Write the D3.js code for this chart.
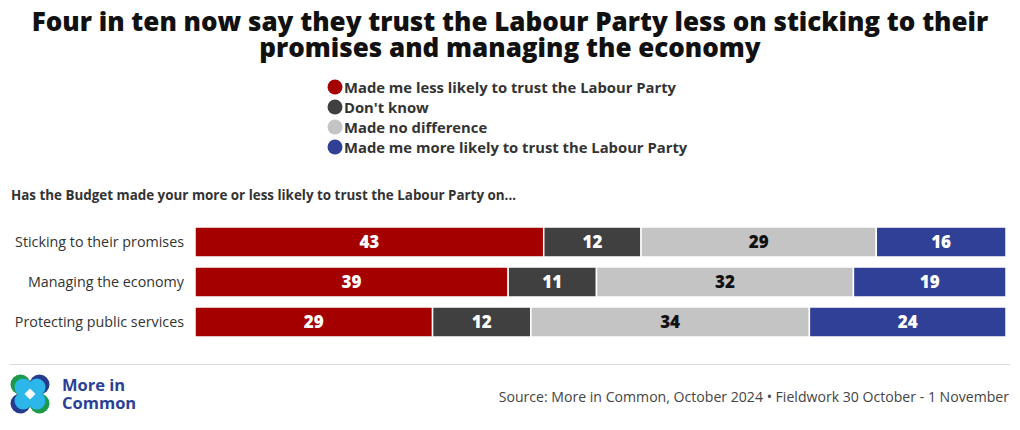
<!DOCTYPE html>
<html><head><meta charset="utf-8">
<script src="https://cdn.jsdelivr.net/npm/d3@7"></script>
<style>
html,body{margin:0;padding:0;background:#fff;}
svg{display:block;font-family:"Open Sans", sans-serif;}
</style></head>
<body><svg id="c" width="1020" height="430"></svg>
<script>
const titleLines = ["Four in ten now say they trust the Labour Party less on sticking to their", "promises and managing the economy"];
const subtitle = "Has the Budget made your more or less likely to trust the Labour Party on...";
const categories = ["Sticking to their promises", "Managing the economy", "Protecting public services"];
const seriesNames = ["Made me less likely to trust the Labour Party", "Don't know", "Made no difference", "Made me more likely to trust the Labour Party"];
const seriesColors = ["#a50000", "#404040", "#c4c4c4", "#2f4096"];
const labelColors = ["#fff", "#fff", "#111", "#fff"];
const lessLikely = [43, 39, 29];
const dontKnow = [12, 11, 12];
const noDifference = [29, 32, 34];
const moreLikely = [16, 19, 24];
const source = "Source: More in Common, October 2024 • Fieldwork 30 October - 1 November";

const series = [lessLikely, dontKnow, noDifference, moreLikely];
const svg = d3.select("#c");

// Title (single text element, two lines)
const t = svg.append("text").attr("text-anchor","middle")
  .attr("font-size", 26).attr("font-weight", 800).attr("fill","#111");
t.selectAll("tspan").data(titleLines).join("tspan")
  .attr("x", 510).attr("y", (d,i)=>31 + i*26).text(d=>d);

// Legend
const lg = svg.append("g");
const li = lg.selectAll("g").data(seriesNames).join("g")
  .attr("transform",(d,i)=>`translate(335,${87 + i*20})`);
li.append("circle").attr("r",7.5).attr("cx",0).attr("cy",0).attr("fill",(d,i)=>seriesColors[i]);
li.append("text").attr("x",9).attr("y",5.5).attr("font-size",14.8).attr("font-weight",700)
  .attr("fill","#333").text(d=>d);

// Subtitle
svg.append("text").attr("x",11).attr("y",200).attr("font-size",13.4).attr("font-weight",700)
  .attr("fill","#333").text(subtitle);

// Bars
const x = d3.scaleLinear().domain([0,1]).range([195,1006]);
const y = d3.scaleBand().domain(categories).range([222,342]).paddingInner(0.25).paddingOuter(0.125);

const rows = categories.map((c,ci)=>{
  const total = d3.sum(series, s=>s[ci]);
  let acc = 0;
  return series.map((s,si)=>{
    const seg = {cat:c, si, v:s[ci], x0:acc/total, x1:(acc+s[ci])/total};
    acc += s[ci];
    return seg;
  });
}).flat();

const bars = svg.append("g");
bars.selectAll("rect").data(rows).join("rect")
  .attr("x",d=>x(d.x0)).attr("width",d=>x(d.x1)-x(d.x0))
  .attr("y",d=>y(d.cat)).attr("height",y.bandwidth())
  .attr("fill",d=>seriesColors[d.si]).attr("stroke","#fff").attr("stroke-width",1.5);
bars.selectAll("text").data(rows).join("text")
  .attr("x",d=>(x(d.x0)+x(d.x1))/2).attr("y",d=>y(d.cat)+y.bandwidth()/2+6)
  .attr("text-anchor","middle").attr("font-size",17).attr("font-weight",800)
  .attr("fill",d=>labelColors[d.si]).text(d=>d.v);

// Category axis
const yAxis = svg.append("g").attr("transform","translate(187,0)")
  .call(d3.axisLeft(y).tickSize(0).tickPadding(3));
yAxis.select(".domain").remove();
yAxis.selectAll("text").attr("font-size",14.3).attr("fill","#333").attr("font-family","'Open Sans', sans-serif");

// Divider
svg.append("line").attr("x1",10).attr("x2",1010).attr("y1",364.5).attr("y2",364.5)
  .attr("stroke","#d9d9d9").attr("stroke-width",1);

// Logo
const logo = svg.append("g").attr("transform","translate(30,394)");
const cs = [[-9.5,-9.5,"#1c9a4b"],[9.5,-9.5,"#253b90"],[-9.5,9.5,"#253b90"],[9.5,9.5,"#1c9a4b"]];
logo.selectAll("circle.o").data(cs).join("circle").attr("class","o")
  .attr("cx",d=>d[0]).attr("cy",d=>d[1]).attr("r",10).attr("fill",d=>d[2]);
logo.selectAll("circle.i").data(cs).join("circle").attr("class","i")
  .attr("cx",d=>d[0]*0.72).attr("cy",d=>d[1]*0.72).attr("r",8.6).attr("fill","#2cb6ea");
logo.append("path").attr("d","M0,-5.5 L5.5,0 L0,5.5 L-5.5,0 Z").attr("fill","#fff");
const lt = svg.append("text").attr("font-size",16.5).attr("font-weight",700).attr("fill","#2a3f96");
lt.append("tspan").attr("x",62).attr("y",391).text("More in");
lt.append("tspan").attr("x",62).attr("y",409).text("Common");

// Source
svg.append("text").attr("x",1009).attr("y",402).attr("text-anchor","end")
  .attr("font-size",14.1).attr("fill","#444").text(source);
</script></body></html>
